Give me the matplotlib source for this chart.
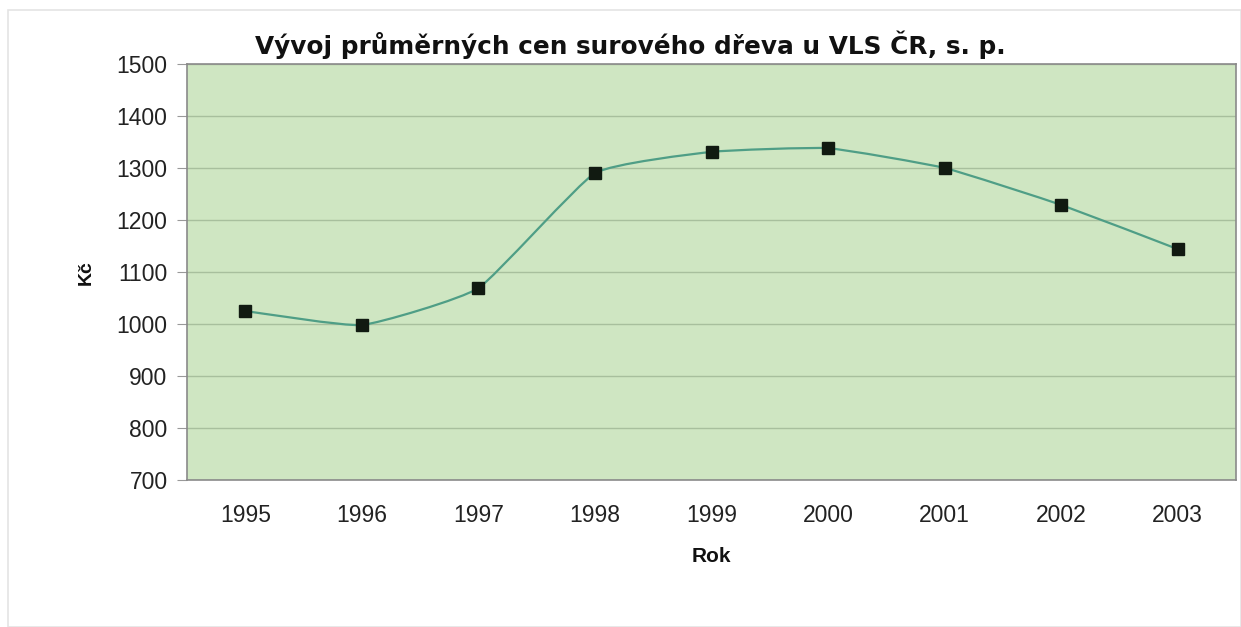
import matplotlib
matplotlib.use("Agg")
import matplotlib.pyplot as plt
from matplotlib.path import Path
from matplotlib.patches import PathPatch, Rectangle
import numpy as np

years = ["1995", "1996", "1997", "1998", "1999", "2000", "2001", "2002", "2003"]
prices = [1025, 998, 1069, 1290, 1331, 1338, 1300, 1229, 1144]
yticks = [700, 800, 900, 1000, 1100, 1200, 1300, 1400, 1500]

title = "Vývoj průměrných cen surového dřeva u VLS ČR, s. p."
ylabel = "Kč"
xlabel = "Rok"

plt.rcParams['font.family'] = ['Liberation Sans', 'DejaVu Sans']

W, H = 1241, 627
fig = plt.figure(figsize=(W / 100, H / 100), dpi=100)
fig.patch.set_facecolor("white")
fig.patches.append(Rectangle((8 / W, 0), (W - 8) / W, (H - 10) / H, transform=fig.transFigure,
                             fill=False, edgecolor="#e4e4e4", linewidth=1.2))

left, right, top, bottom = 187, 1236, 64, 480
ax = fig.add_axes([left / W, 1 - bottom / H, (right - left) / W, (bottom - top) / H])
ax.set_facecolor("#cfe6c2")

x = np.arange(len(years))
ax.set_xlim(-0.5, len(years) - 0.5)
ax.set_ylim(700, 1500)
ax.set_yticks(yticks)
ax.set_yticklabels([str(v) for v in yticks], fontsize=16.5, color="#222222")
ax.set_xticks(x)
ax.set_xticklabels(years, fontsize=16.5, color="#222222")
ax.tick_params(axis="x", length=0, pad=17)
ax.tick_params(axis="y", length=7, color="#999999", pad=7)
ax.grid(axis="y", color="#a8bf9d", linewidth=1.0)
ax.set_axisbelow(True)
for s in ax.spines.values():
    s.set_color("#8a8a8a")
    s.set_linewidth(1.2)

# lightly smoothed line (Bezier segments through the data points)
pts = np.column_stack([x, prices]).astype(float)
verts = [tuple(pts[0])]
codes = [Path.MOVETO]
n = len(pts)
for i in range(n - 1):
    p0 = pts[i - 1] if i > 0 else pts[i]
    p1 = pts[i]
    p2 = pts[i + 1]
    p3 = pts[i + 2] if i + 2 < n else pts[i + 1]
    c1 = p1 + (p2 - p0) / 14.0
    c2 = p2 - (p3 - p1) / 14.0
    verts += [tuple(c1), tuple(c2), tuple(p2)]
    codes += [Path.CURVE4] * 3
ax.add_patch(PathPatch(Path(verts, codes), facecolor="none", edgecolor="#4f9e86",
                       linewidth=1.6, zorder=3))
ax.plot(x, prices, linestyle="none", marker="s", markersize=8,
        color="#111a11", zorder=4)

fig.text(630 / W, 1 - 45 / H, title, ha="center", va="center",
         fontsize=17.8, fontweight="bold", color="#111111",
         family=['DejaVu Sans'])
fig.text(86 / W, 1 - 273 / H, ylabel, ha="center", va="center", rotation=90,
         fontsize=14, fontweight="bold", color="#111111")
fig.text(711 / W, 1 - 557 / H, xlabel, ha="center", va="center",
         fontsize=15, fontweight="bold", color="#111111")

fig.savefig("out.png", dpi=100)
